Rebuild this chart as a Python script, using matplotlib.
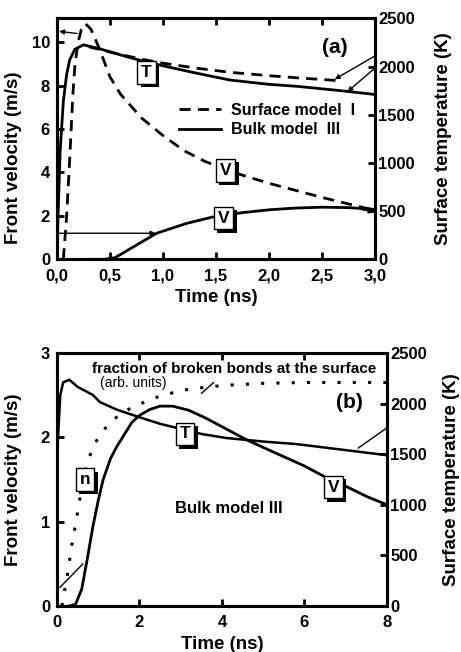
import numpy as np
import matplotlib.pyplot as plt
import matplotlib.patheffects as pe

plt.rcParams['font.family'] = ['Liberation Sans', 'DejaVu Sans']
plt.rcParams['font.weight'] = 'bold'
plt.rcParams['axes.labelweight'] = 'bold'

# ---- panel (a): surface model I vs bulk model III, 0-3 ns ----
t_Tbulk_a = [0, 0.01, 0.03, 0.06, 0.09, 0.12, 0.17, 0.25, 0.4, 0.6, 0.78, 1.03,
             1.3, 1.63, 2.0, 2.26, 2.67, 3.0]
T_bulk_a = [0, 450, 1120, 1640, 1910, 2070, 2180, 2225, 2185, 2120, 2065, 2000,
            1935, 1860, 1815, 1795, 1750, 1710]

t_Tsurf_a = [0.3, 0.5, 0.78, 1.0, 1.3, 1.63, 2.0, 2.3, 2.64]
T_surf_a = [2205, 2150, 2080, 2035, 1985, 1940, 1905, 1880, 1855]

t_Vsurf_a = [0.06, 0.09, 0.12, 0.15, 0.17, 0.2, 0.23, 0.27, 0.32, 0.4, 0.5, 0.6,
             0.8, 1.0, 1.2, 1.4, 1.7, 2.0, 2.5, 3.0]
V_surf_a = [0, 1.9, 4.6, 7.6, 9.0, 10.0, 10.6, 10.85, 10.6, 9.7, 8.4, 7.6,
            6.5, 5.7, 5.0, 4.5, 3.95, 3.5, 2.85, 2.25]

t_Vbulk_a = [0.3, 0.45, 0.55, 0.72, 0.94, 1.22, 1.47, 1.75, 2.0, 2.25, 2.5, 2.75, 3.0]
V_bulk_a = [0, 0, 0.08, 0.57, 1.2, 1.65, 1.95, 2.15, 2.28, 2.36, 2.4, 2.38, 2.3]

# ---- panel (b): bulk model III, 0-8 ns ----
t_T_b = [0.02, 0.08, 0.15, 0.3, 0.5, 0.87, 1.04, 1.45, 2.0, 2.5, 3.0, 3.5, 4.1,
         5.0, 5.8, 7.0, 8.0]
T_b = [1625, 2085, 2210, 2235, 2165, 2085, 2015, 1940, 1865, 1800, 1750, 1700,
       1660, 1625, 1600, 1540, 1490]

t_V_b = [0.3, 0.45, 0.6, 0.75, 0.87, 1.0, 1.12, 1.3, 1.45, 1.82, 2.0, 2.25, 2.5,
         2.8, 3.2, 3.6, 4.1, 4.6, 5.0, 5.5, 6.0, 6.5, 7.0, 7.5, 8.0]
V_b = [0, 0.02, 0.2, 0.6, 0.94, 1.25, 1.5, 1.75, 1.89, 2.18, 2.26, 2.33, 2.37,
       2.37, 2.32, 2.23, 2.1, 1.97, 1.88, 1.77, 1.66, 1.53, 1.42, 1.3, 1.2]

t_n_b = [0.12, 0.15, 0.22, 0.28, 0.35, 0.44, 0.51, 0.6, 0.72, 0.88, 1.04, 1.28,
         1.57, 1.85, 2.13, 2.45, 2.74, 3.05, 3.39, 3.7, 4.2, 5.0, 6.0, 7.0, 8.0]
n_b = [0, 0.1, 0.27, 0.45, 0.7, 0.94, 1.14, 1.4, 1.68, 1.89, 2.03, 2.17,
       2.29, 2.36, 2.42, 2.48, 2.52, 2.56, 2.58, 2.6, 2.62, 2.64, 2.65, 2.65, 2.65]

xticks_a = [0, 0.5, 1.0, 1.5, 2.0, 2.5, 3.0]
xticklabels_a = ['0,0', '0,5', '1,0', '1,5', '2,0', '2,5', '3,0']
temp_ticks = [0, 500, 1000, 1500, 2000, 2500]

LW = 2.0
DASH = (4, 2.6)


def style(ax, ax2):
    for a in (ax, ax2):
        for s in a.spines.values():
            s.set_linewidth(2.2)
    ax.tick_params(direction='in', length=5, width=2, labelsize=12,
                   top=True, right=False, pad=5)
    ax.tick_params(axis='x', pad=6.5)
    ax2.tick_params(direction='in', length=5, width=2, labelsize=12, pad=2.5)
    ax.set_xlabel('Time (ns)', fontsize=13.5, labelpad=4)
    ax.set_ylabel('Front velocity (m/s)', fontsize=13.5)
    ax2.set_ylabel('Surface temperature (K)', fontsize=13.5)
    ax.set_zorder(ax2.get_zorder() + 1)
    ax.patch.set_visible(False)


def tag(ax, x, y, s, transform=None):
    tr = transform if transform is not None else ax.transData
    t = ax.annotate(s, (x, y), xycoords=tr, ha='center', va='center',
                    fontsize=12.5, fontweight='bold', zorder=10,
                    bbox=dict(boxstyle='square,pad=0.22', fc='white', ec='k', lw=1))
    t.get_bbox_patch().set_path_effects(
        [pe.SimplePatchShadow(offset=(2.5, -2.5), shadow_rgbFace='k', alpha=1),
         pe.Normal()])


def pointer(ax, xy_head, xy_tail, head=True, transform=None, lw=1.0):
    tr = transform if transform is not None else ax.transData
    ax.annotate('', xy=xy_head, xytext=xy_tail, xycoords=tr, textcoords=tr,
                arrowprops=dict(arrowstyle='-|>' if head else '-', lw=lw, color='k',
                                mutation_scale=7, shrinkA=0, shrinkB=0))


fig = plt.figure(figsize=(4.61, 6.52), dpi=100)

# ---------------- (a) ----------------
ax = fig.add_axes([0.1236, 0.6023, 0.6898, 0.3696])
ax2 = ax.twinx()
ax.plot(t_Vsurf_a, V_surf_a, 'k', lw=LW, dashes=DASH, label='Surface model  I')
ax.plot(t_Vbulk_a, V_bulk_a, 'k', lw=LW, label='Bulk model  III')
ax2.plot(t_Tsurf_a, T_surf_a, 'k', lw=LW, dashes=DASH)
ax2.plot(t_Tbulk_a, T_bulk_a, 'k', lw=LW)
ax.set_xlim(0, 3)
ax.set_ylim(0, 11.1)
ax2.set_ylim(0, 2500)
ax.set_xticks(xticks_a, xticklabels_a)
ax.set_yticks([0, 2, 4, 6, 8, 10])
ax2.set_yticks(temp_ticks)
style(ax, ax2)
ax.yaxis.set_label_coords(-0.11, 0.42)
ax2.yaxis.set_label_coords(1.19, 0.5)
ax.legend(loc='upper left', bbox_to_anchor=(0.385, 0.65), frameon=False,
          fontsize=11.5, handlelength=2.6, handletextpad=0.6, labelspacing=0.3,
          borderpad=0, borderaxespad=0)
ax.text(0.874, 0.88, '(a)', transform=ax.transAxes, fontsize=15,
        ha='center', va='center')

pointer(ax, (0.02, 10.5), (0.19, 10.4))
pointer(ax, (0.93, 1.2), (0.0, 1.2))
pointer(ax, (3.0, 2.2), (2.88, 2.3), lw=1.6)
pointer(ax, (2.62, 1868), (3.0, 2110), transform=ax2.transData)
pointer(ax, (2.74, 1738), (3.0, 1985), transform=ax2.transData)

tag(ax, 0.845, 1940, 'T', transform=ax2.transData)
tag(ax, 1.59, 4.1, 'V')
tag(ax, 1.57, 1.9, 'V')

# ---------------- (b) ----------------
bx = fig.add_axes([0.1236, 0.0706, 0.7158, 0.388])
bx2 = bx.twinx()
bx.plot(t_V_b, V_b, 'k', lw=LW)
bx.plot(t_n_b, n_b, 'k', lw=2.2, linestyle=(0, (1, 4)))
bx2.plot(t_T_b, T_b, 'k', lw=1.8)
bx.set_xlim(0, 8)
bx.set_ylim(0, 3)
bx2.set_ylim(0, 2500)
bx.set_xticks([0, 2, 4, 6, 8])
bx.set_yticks([0, 1, 2, 3])
bx2.set_yticks(temp_ticks)
style(bx, bx2)
bx.yaxis.set_label_coords(-0.106, 0.5)
bx2.yaxis.set_label_coords(1.17, 0.5)

bx.text(0.106, 0.937, 'fraction of broken bonds at the surface',
        transform=bx.transAxes, fontsize=11, va='center')
bx.text(0.13, 0.881, '(arb. units)', transform=bx.transAxes, fontsize=10,
        fontweight='normal', va='center')
bx.text(0.358, 0.387, 'Bulk model III', transform=bx.transAxes, fontsize=12,
        va='center')
bx.text(0.885, 0.806, '(b)', transform=bx.transAxes, fontsize=15,
        ha='center', va='center')

pointer(bx, (0.07, 0.22), (0.63, 0.5), head=False)
pointer(bx, (3.5, 2.52), (3.8, 2.65), head=False)
pointer(bx, (7.3, 1560), (8.0, 1760), head=False, transform=bx2.transData)

tag(bx, 3.1, 1700, 'T', transform=bx2.transData)
tag(bx, 0.68, 1.5, 'n')
tag(bx, 6.7, 1.41, 'V')

fig.savefig('out.png', dpi=100)
